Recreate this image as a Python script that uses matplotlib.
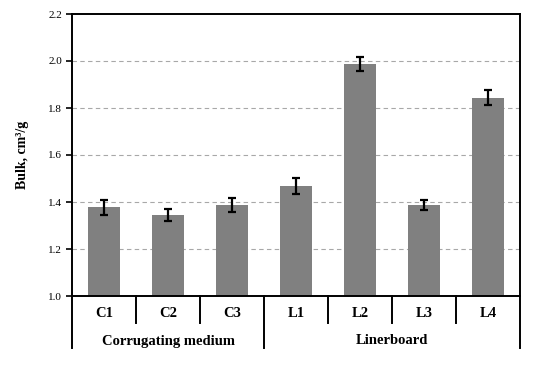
import matplotlib
matplotlib.use("Agg")
import matplotlib.pyplot as plt

# ==============================
# Dados
# ==============================
categorias = ["C1", "C2", "C3", "L1", "L2", "L3", "L4"]
bulk = [1.378, 1.344, 1.387, 1.467, 1.988, 1.388, 1.843]
erro = [0.032, 0.025, 0.030, 0.035, 0.030, 0.020, 0.032]
grupos = ["Corrugating medium", "Linerboard"]
grupo_inicio = [0, 3]
grupo_fim = [2, 6]
yticks = [1.0, 1.2, 1.4, 1.6, 1.8, 2.0, 2.2]

plt.rcParams["font.family"] = ["Liberation Serif", "DejaVu Serif"]

W, H = 533, 366
fig = plt.figure(figsize=(W / 100, H / 100), dpi=100)
ax = fig.add_axes([72 / W, 1 - 296 / H, 448 / W, 282 / H])

x = list(range(len(categorias)))
ax.bar(x, [b - 1.0 for b in bulk], bottom=1.0, width=0.5, color="#808080", zorder=2)
ax.errorbar(x, bulk, yerr=erro, fmt="none", ecolor="black", elinewidth=1.6,
            capsize=3, capthick=1.6, zorder=3)

ax.set_ylim(1.0, 2.2)
ax.set_xlim(-0.5, len(categorias) - 0.5)
ax.set_yticks(yticks)
ax.set_yticklabels([f"{v:.1f}" for v in yticks], fontsize=8)
ax.tick_params(axis="y", direction="out", length=4, width=1.2, pad=3)

for v in yticks[1:-1]:
    ax.axhline(v, color="#a8a8a8", linestyle=(0, (4, 3)), linewidth=0.8, zorder=1)

for s in ax.spines.values():
    s.set_linewidth(1.4)
    s.set_color("black")

# rótulos das categorias
ax.set_xticks(x)
ax.set_xticklabels(categorias, fontsize=10.5, fontweight="bold")
ax.tick_params(axis="x", length=0, pad=8)

trans = ax.get_xaxis_transform()
curta = 27 / 282
longa = 52 / 282
for i in range(len(categorias) - 1):
    xi = i + 0.5
    if xi == 2.5:
        continue
    ax.plot([xi, xi], [0, -curta], transform=trans, color="black", lw=1.4, clip_on=False)
for xi in [-0.5, 2.5, len(categorias) - 0.5]:
    ax.plot([xi, xi], [0, -longa], transform=trans, color="black", lw=1.4, clip_on=False)

for g, a, b in zip(grupos, grupo_inicio, grupo_fim):
    ax.text((a + b) / 2, -45 / 282, g, transform=trans, ha="center", va="center",
            fontsize=10.5, fontweight="bold")

ax.set_ylabel("Bulk, cm³/g", fontsize=10, fontweight="bold", labelpad=14)

fig.savefig("out.png", dpi=100)
